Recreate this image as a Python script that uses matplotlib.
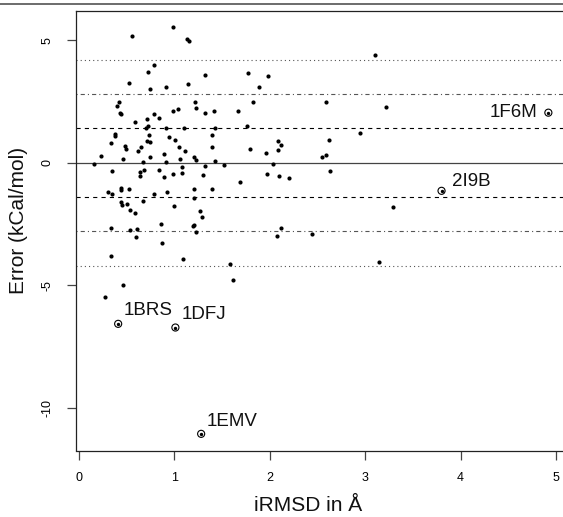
import matplotlib
matplotlib.use("Agg")
import matplotlib.pyplot as plt
from matplotlib.lines import Line2D

plt.rcParams['font.family'] = ['Liberation Sans', 'DejaVu Sans']
plt.rcParams['lines.scale_dashes'] = False

# iRMSD (A) and prediction error (kCal/mol) for each complex
irmsd = [0.16, 0.23, 0.35, 0.30, 0.35, 0.44, 0.44, 0.52, 0.44, 0.45, 0.50, 0.53, 0.59, 0.33,
         0.53, 0.61, 0.56, 0.98, 1.13, 1.15, 0.52, 0.72, 0.79, 0.74, 0.91, 1.14, 1.32, 1.77,
         1.98, 1.89, 1.82, 1.67, 1.76, 0.40, 0.42, 0.43, 0.44, 0.59, 0.71, 0.70, 0.72, 0.79,
         0.84, 0.98, 1.04, 1.22, 1.23, 1.32, 1.41, 0.91, 1.10, 1.42, 0.38, 0.38, 0.33, 0.48,
         0.49, 0.65, 0.62, 0.73, 0.71, 0.74, 0.46, 0.74, 0.67, 0.89, 0.91, 0.94, 1.01, 1.05,
         1.11, 1.06, 1.20, 1.23, 1.39, 1.39, 1.42, 1.32, 1.52, 1.69, 1.79, 1.96, 2.09, 2.12,
         2.09, 2.03, 1.97, 2.10, 2.20, 0.64, 0.64, 0.68, 0.84, 0.89, 0.99, 1.08, 1.08, 1.30,
         1.20, 1.20, 1.39, 0.79, 0.92, 0.67, 1.00, 1.27, 1.29, 0.86, 1.19, 1.21, 2.12, 0.60,
         0.87, 1.23, 0.34, 1.09, 1.58, 1.61, 2.07, 2.44, 0.46, 0.27, 3.10, 2.59, 3.22, 2.95,
         2.62, 2.55, 2.59, 2.63, 3.29, 3.14]
error = [-0.06, 0.28, -0.36, -1.18, -1.26, -1.03, -1.12, -1.07, -1.62, -1.73, -1.69, -1.93,
         -2.06, -2.66, -2.76, -2.70, 5.18, 5.53, 5.04, 4.95, 3.26, 3.69, 3.99, 3.00, 3.08,
         3.23, 3.57, 3.64, 3.52, 3.08, 2.47, 2.11, 1.49, 2.32, 2.48, 2.03, 1.97, 1.67, 1.78,
         1.41, 1.49, 1.99, 1.82, 2.09, 2.17, 2.47, 2.24, 2.01, 2.10, 1.42, 1.41, 1.42, 1.16,
         1.07, 0.80, 0.69, 0.54, 0.64, 0.47, 1.12, 0.88, 0.84, 0.16, 0.22, 0.01, 0.36, 0.02,
         1.05, 0.91, 0.62, 0.46, 0.14, 0.21, 0.11, 1.11, 0.63, 0.06, -0.14, -0.09, -0.77,
         0.55, 0.40, 0.89, 0.70, 0.50, -0.06, -0.47, -0.55, -0.63, -0.38, -0.54, -0.31,
         -0.32, -0.60, -0.47, -0.43, -0.18, -0.52, -1.07, -1.44, -1.07, -1.27, -1.20, -1.58,
         -1.76, -1.98, -2.22, -2.50, -2.58, -2.56, -2.66, -3.04, -3.27, -2.84, -3.82, -3.95,
         -4.13, -4.77, -3.01, -2.93, -5.00, -5.49, 4.39, 2.46, 2.27, 1.22, 0.91, 0.25, 0.33,
         -0.35, -1.80, -4.05]

# highlighted outliers
out_names = ['1F6M', '2I9B', '1BRS', '1DFJ', '1EMV']
out_irmsd = [4.92, 3.80, 0.41, 1.01, 1.28]
out_error = [2.04, -1.15, -6.58, -6.73, -11.07]
# label offsets in points (dx, dy) and alignment
out_offsets = [(-8, -3), (7.7, 3.8), (3.6, 6.3), (4.7, 5.8), (4.1, 5.8)]
out_ha = ['right', 'left', 'left', 'left', 'left']

sigma = 1.4  # std dev of error

fig = plt.figure(figsize=(5.63, 5.17), dpi=100)
W, H = 563, 517
x0, x1 = -0.032, 5.10
y0, y1 = -11.75, 6.19
left, right, top, bottom = 76, 79 + 5.10 * 95.4, 11, 450.5
ax = fig.add_axes([left / W, 1 - bottom / H, (right - left) / W, (bottom - top) / H])
ax.set_xlim(x0, x1)
ax.set_ylim(y0, y1)

# reference lines at 0, 1, 2, 3 sigma
ax.axhline(0, color='#444444', lw=0.9)
for k, dash, col in [(1, (3, 3), 'black'), (2, (0.8, 2.2, 3, 2.2), '#555555'),
                     (3, (0.8, 2.2), '#555555')]:
    for s in (1, -1):
        ax.axhline(s * k * sigma, color=col, lw=0.8, dashes=dash)

ax.scatter(irmsd, error, s=9, color='black', zorder=3, linewidths=0)
ax.scatter(out_irmsd, out_error, s=26, facecolors='none', edgecolors='black',
           linewidths=0.8, zorder=3)
ax.scatter(out_irmsd, out_error, s=6, color='black', zorder=3, linewidths=0)
for name, x, y, off, ha in zip(out_names, out_irmsd, out_error, out_offsets, out_ha):
    ax.annotate(name, (x, y), xytext=off, textcoords='offset points',
                ha=ha, va='baseline', fontsize=13.5, color='#111111')

ax.set_xticks([0, 1, 2, 3, 4, 5])
ax.set_yticks([5, 0, -5, -10])
ax.set_yticklabels(['5', '0', '-5', '-10'], rotation=90, va='center')
ax.tick_params(axis='both', labelsize=9, length=6.5, width=0.9, color='#444444')
ax.tick_params(axis='x', pad=9)
ax.tick_params(axis='y', pad=10)
for sp in ax.spines.values():
    sp.set_linewidth(0.9)
    sp.set_color('#222222')

fig.text(308 / W, 1 - 511 / H, 'iRMSD in Å', ha='center', va='baseline', fontsize=15,
         color='#111111')
fig.text(19 / W, 1 - 220 / H, 'Error (kCal/mol)', ha='center', va='center', rotation=90,
         fontsize=15, color='#111111')

# border line at the very top of the figure
fig.add_artist(Line2D([0, 1], [1 - 4 / H, 1 - 4 / H], transform=fig.transFigure,
                      color='#444444', lw=1.1))

fig.savefig('out.png', dpi=100)
